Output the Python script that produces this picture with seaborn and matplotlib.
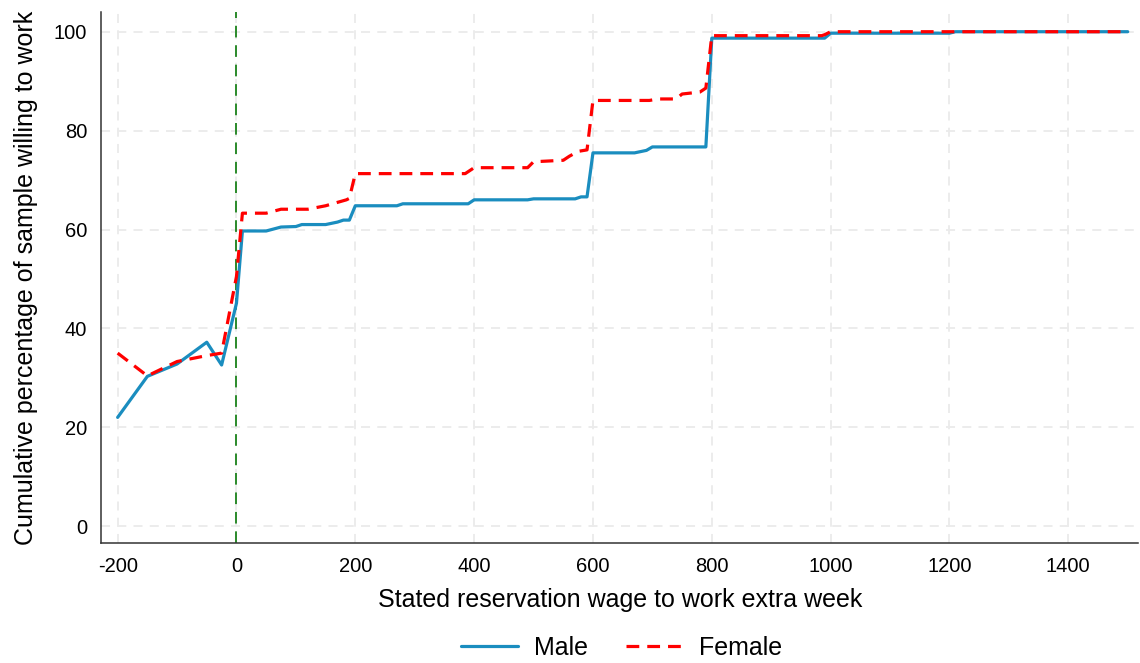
import pandas as pd
import matplotlib
matplotlib.use("Agg")
import matplotlib.pyplot as plt
import seaborn as sns

# Cumulative share willing to work
male_wage = [-200, -150, -100, -50, -25, 0, 10, 50, 75, 100, 110, 150, 170, 180, 190,
             200, 270, 280, 390, 400, 490, 500, 570, 580, 590, 600, 670, 690, 700,
             790, 800, 990, 1000, 1200, 1210, 1500]
male_pct = [22.0, 30.3, 32.8, 37.2, 32.6, 45.1, 59.7, 59.7, 60.5, 60.6, 61.0, 61.0, 61.5, 61.9, 61.9,
            64.8, 64.8, 65.2, 65.2, 66.0, 66.0, 66.2, 66.2, 66.6, 66.6, 75.5, 75.5, 76.0, 76.7,
            76.7, 98.7, 98.7, 99.7, 99.7, 100.0, 100.0]

female_wage = [-200, -150, -100, -50, -25, 0, 10, 50, 75, 120, 150, 185, 190, 200, 385, 400,
               490, 500, 550, 560, 575, 590, 600, 695, 710, 740, 750, 780, 790, 800,
               985, 990, 1000, 1500]
female_pct = [35.0, 30.4, 33.3, 34.5, 35.0, 50.5, 63.3, 63.3, 64.1, 64.1, 64.8, 66.0, 66.3, 71.3, 71.3, 72.5,
              72.5, 73.7, 74.0, 74.8, 75.8, 76.1, 86.1, 86.1, 86.4, 86.4, 87.4, 87.8, 88.6, 99.2,
              99.2, 99.4, 100.0, 100.0]

x_ticks = [-200, 0, 200, 400, 600, 800, 1000, 1200, 1400]
y_ticks = [0, 20, 40, 60, 80, 100]

df = pd.concat([
    pd.DataFrame({"wage": male_wage, "pct": male_pct, "sex": "Male"}),
    pd.DataFrame({"wage": female_wage, "pct": female_pct, "sex": "Female"}),
])

sns.set_style("white")
plt.rcParams['font.family'] = ['Liberation Sans', 'DejaVu Sans']
plt.rcParams['text.color'] = 'black'
plt.rcParams['axes.labelcolor'] = 'black'

fig = plt.figure(figsize=(11.4, 6.63), dpi=100)
ax = fig.add_axes([0.0886, 0.181, 0.91, 0.801])

# grid first so lines sit on top
for t in x_ticks:
    ax.axvline(t, color="#ebebeb", lw=1.3, ls=(0, (5, 4)), zorder=0)
for t in y_ticks:
    ax.axhline(t, color="#ebebeb", lw=1.3, ls=(0, (5, 4)), zorder=0)

ax.axvline(0, color="#2a8a2a", lw=1.4, ls=(0, (6, 4)), zorder=1)

sns.lineplot(data=df, x="wage", y="pct", hue="sex", style="sex",
             palette={"Male": "#1a8dbf", "Female": "#ff0000"},
             dashes={"Male": "", "Female": (4, 2.5)},
             linewidth=2.3, sort=False, estimator=None, ax=ax, zorder=3)

ax.set_xlim(-228, 1518)
ax.set_ylim(-3.4, 104)
ax.set_xticks(x_ticks)
ax.set_yticks(y_ticks)
ax.set_xticklabels([str(t) for t in x_ticks])
ax.tick_params(axis="both", direction="out", length=7, width=1, color="#333333",
               labelsize=14.5, labelcolor="black", pad=3)

for s in ["top", "right"]:
    ax.spines[s].set_visible(False)
for s in ["left", "bottom"]:
    ax.spines[s].set_color("#333333")
    ax.spines[s].set_linewidth(1.1)

ax.set_xlabel("Stated reservation wage to work extra week", fontsize=18, labelpad=9)
ax.set_ylabel("Cumulative percentage of sample willing to work", fontsize=18, labelpad=11)

handles, labels = ax.get_legend_handles_labels()
ax.legend(handles, labels, loc="center", bbox_to_anchor=(0.502, -0.198), ncol=2,
          frameon=False, fontsize=18, handlelength=2.3, columnspacing=1.5, handletextpad=0.64,
          borderpad=0, borderaxespad=0)

fig.savefig("out.png", dpi=100)
